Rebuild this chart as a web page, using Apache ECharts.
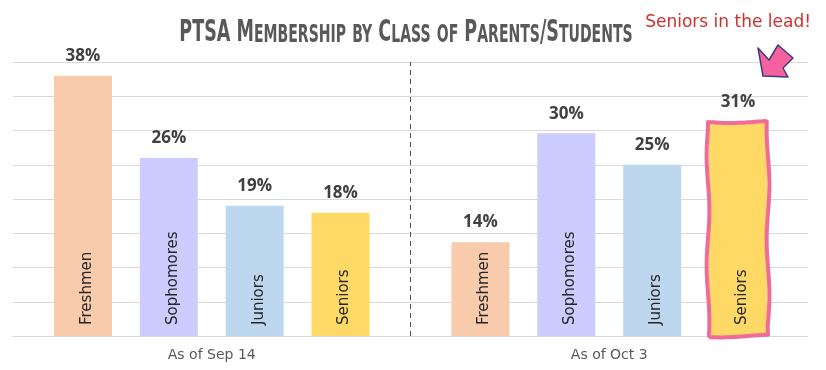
<!DOCTYPE html>
<html>
<head>
<meta charset="utf-8">
<script src="https://cdn.jsdelivr.net/npm/echarts@6/dist/echarts.min.js"></script>
<style>
html, body { margin: 0; padding: 0; background: #ffffff; }
#chart { width: 826px; height: 370px; }
</style>
</head>
<body>
<div id="chart"></div>
<script>
// ---- data ----
const periods = ['As of Sep 14', 'As of Oct 3'];
const classNames = ['Freshmen', 'Sophomores', 'Juniors', 'Seniors'];
const freshmen = [38, 13.7];
const sophomores = [26, 29.6];
const juniors = [19, 25];
const seniors = [18, 31.3];
const yTicks = [0, 5, 10, 15, 20, 25, 30, 35, 40];
const titleText = 'PTSA Membership by Class of Parents/Students';
const noteText = 'Seniors in the lead!';
const highlightClass = 'Seniors';
const highlightPeriod = 'As of Oct 3';

// ---- styles ----
const classColors = ['#F8CBAD', '#CCCCFF', '#BDD7EE', '#FFD966'];
const seriesValues = [freshmen, sophomores, juniors, seniors];
const handFont = '"DejaVu Sans", sans-serif';
const labelFont = '"Open Sans", "Liberation Sans", sans-serif';
const titleFont = '"DejaVu Sans", sans-serif';

// small-caps title as rich text
function smallCaps(str) {
  let out = '';
  let cur = null, buf = '';
  for (const ch of str) {
    const kind = (ch >= 'a' && ch <= 'z') ? 's' : 'b';
    if (kind !== cur && buf) { out += '{' + cur + '|' + buf + '}'; buf = ''; }
    cur = kind;
    buf += ch.toUpperCase();
  }
  if (buf) out += '{' + cur + '|' + buf + '}';
  return out;
}

const chart = echarts.init(document.getElementById('chart'), null, { renderer: 'canvas' });

const series = [];
classNames.forEach((name, i) => {
  const vals = seriesValues[i];
  series.push({
    name: name,
    type: 'bar',
    stack: 'stack' + i,
    barWidth: 58,
    barGap: '48%',
    data: vals.slice(),
    itemStyle: { color: classColors[i] },
    label: {
      show: true,
      position: 'insideBottom',
      rotate: 90,
      align: 'left',
      verticalAlign: 'middle',
      distance: 11,
      offset: [0, 4],
      formatter: () => name,
      color: '#262626',
      fontFamily: handFont,
      fontSize: 15
    },
    emphasis: { disabled: true },
    z: 2
  });
  series.push({
    name: name + ' value',
    type: 'bar',
    stack: 'stack' + i,
    barWidth: 58,
    barGap: '48%',
    data: vals.map(() => 0),
    itemStyle: { color: 'transparent' },
    label: {
      show: true,
      position: 'top',
      distance: 11,
      formatter: (p) => Math.round(vals[p.dataIndex]) + '%',
      color: '#404040',
      fontFamily: labelFont,
      fontWeight: 'bold',
      fontSize: 17
    },
    emphasis: { disabled: true },
    z: 3
  });
});

// dashed separator between the two periods (on a hidden helper axis)
series.push({
  name: 'separator',
  type: 'line',
  xAxisIndex: 1,
  yAxisIndex: 0,
  data: [],
  silent: true,
  markLine: {
    silent: true,
    symbol: 'none',
    label: { show: false },
    lineStyle: { color: '#44546A', type: [5, 4], width: 1 },
    data: [{ xAxis: 1 }]
  }
});

const option = {
  animation: false,
  backgroundColor: '#ffffff',
  title: [
    {
      text: noteText,
      right: 10,
      top: 9,
      textStyle: { fontFamily: handFont, fontWeight: 'normal', fontSize: 17, color: '#D0302D' }
    }
  ],
  grid: { left: 13, right: 18, top: 62, bottom: 34, containLabel: false },
  xAxis: [
    {
      type: 'category',
      data: periods,
      axisLine: { show: true, lineStyle: { color: '#D9D9D9', width: 1 } },
      axisTick: { show: false },
      axisLabel: { color: '#595959', fontFamily: handFont, fontSize: 14, margin: 12 }
    },
    { type: 'value', min: 0, max: 2, show: false }
  ],
  yAxis: {
    type: 'value',
    min: yTicks[0],
    max: yTicks[yTicks.length - 1],
    interval: yTicks[1] - yTicks[0],
    axisLine: { show: false },
    axisTick: { show: false },
    axisLabel: { show: false },
    splitLine: { lineStyle: { color: '#D9D9D9', width: 1 } }
  },
  series: series
};

chart.setOption(option);

// highlight outline (wavy marker-style) around the highlighted bar, using the library's bar layout
const hlSeriesIdx = classNames.indexOf(highlightClass) * 2;
const hlDataIdx = periods.indexOf(highlightPeriod);
const lay = chart.getModel().getSeriesByIndex(hlSeriesIdx).getData().getItemLayout(hlDataIdx);
const x0 = Math.min(lay.x, lay.x + lay.width), x1 = Math.max(lay.x, lay.x + lay.width);
const y0 = Math.min(lay.y, lay.y + lay.height), y1 = Math.max(lay.y, lay.y + lay.height);
const pts = [];
const amp = 1.4;
function edge(ax, ay, bx, by, phase) {
  const n = 24;
  const len = Math.hypot(bx - ax, by - ay);
  const nx = -(by - ay) / len, ny = (bx - ax) / len;
  for (let k = 0; k < n; k++) {
    const t = k / n;
    const w = amp * Math.sin(t * Math.PI * 2 * (len / 110) + phase);
    pts.push([ax + (bx - ax) * t + nx * w, ay + (by - ay) * t + ny * w]);
  }
}
edge(x0 - 1, y0, x1 + 1, y0, 0.3);
edge(x1 + 1, y0, x1 + 1, y1, 1.1);
edge(x1 + 1, y1, x0 - 1, y1, 2.0);
edge(x0 - 1, y1, x0 - 1, y0, 0.7);

chart.setOption({
  graphic: [
    {
      type: 'text',
      x: 406,
      y: 33,
      scaleX: 0.585,
      z: 10,
      silent: true,
      style: {
        text: smallCaps(titleText),
        align: 'center',
        verticalAlign: 'middle',
        rich: {
          b: { fontFamily: titleFont, fontWeight: 'bold', fontSize: 30, fill: '#595959', verticalAlign: 'bottom', lineHeight: 30 },
          s: { fontFamily: titleFont, fontWeight: 'bold', fontSize: 24, fill: '#595959', verticalAlign: 'bottom', lineHeight: 30 }
        }
      }
    },
    {
      type: 'polygon',
      z: 10,
      silent: true,
      shape: { points: pts },
      style: { fill: 'none', stroke: '#F06A9A', lineWidth: 4, lineJoin: 'round' }
    },
    {
      type: 'polygon',
      z: 10,
      silent: true,
      shape: { points: [[763, 76], [758, 48], [769, 60], [778, 45], [793, 58], [783, 68], [788, 77]] },
      style: { fill: '#F5609E', stroke: '#3F3C7E', lineWidth: 1.5, lineJoin: 'round' }
    }
  ]
});
</script>
</body>
</html>
